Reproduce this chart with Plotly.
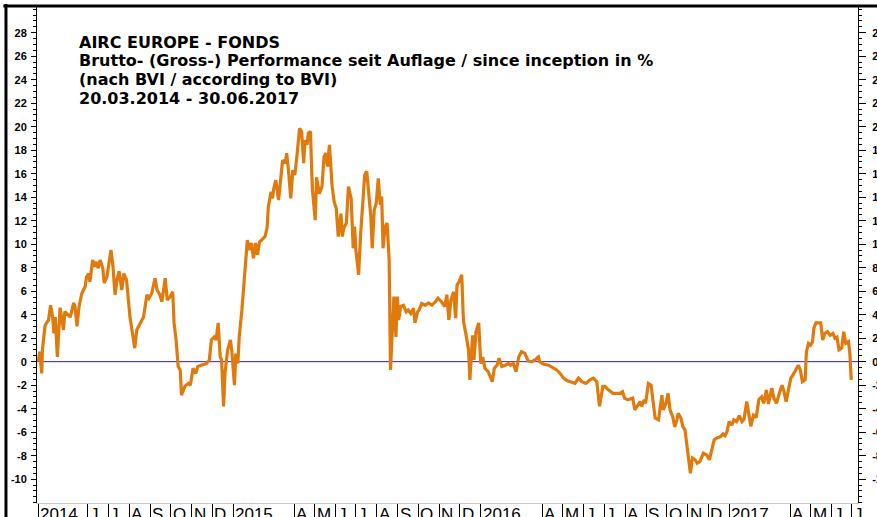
import plotly.graph_objects as go

# ---------------- data ----------------
dates_2014 = ["2014-03-20","2014-03-22","2014-03-25","2014-03-26","2014-03-28","2014-03-30",
  "2014-04-04","2014-04-07","2014-04-10","2014-04-12","2014-04-14","2014-04-17","2014-04-21","2014-04-24","2014-04-26","2014-04-28",
  "2014-05-03","2014-05-06","2014-05-11","2014-05-13","2014-05-16","2014-05-19","2014-05-23","2014-05-28","2014-05-30",
  "2014-06-02","2014-06-04","2014-06-08","2014-06-12","2014-06-14","2014-06-16","2014-06-19","2014-06-23","2014-06-25","2014-06-29",
  "2014-07-01","2014-07-05","2014-07-08","2014-07-11","2014-07-14","2014-07-17","2014-07-21","2014-07-24","2014-07-28",
  "2014-08-02","2014-08-05","2014-08-09","2014-08-12","2014-08-17","2014-08-22","2014-08-27","2014-08-30",
  "2014-09-03","2014-09-08","2014-09-11","2014-09-15","2014-09-18","2014-09-23","2014-09-26","2014-09-30",
  "2014-10-04","2014-10-06","2014-10-09","2014-10-12","2014-10-15","2014-10-17","2014-10-22","2014-10-27","2014-10-30",
  "2014-11-03","2014-11-07","2014-11-10","2014-11-15","2014-11-23","2014-11-27","2014-11-30",
  "2014-12-04","2014-12-07","2014-12-10","2014-12-13","2014-12-15","2014-12-18","2014-12-20","2014-12-24","2014-12-28","2014-12-30"]
perf_2014 = [0.0,0.85,-1.0,1.0,2.1,3.1,
  3.55,4.8,3.8,2.4,3.8,0.4,4.6,3.5,2.7,4.25,
  4.0,3.8,5.0,4.7,3.0,4.7,5.8,6.4,7.2,
  7.5,6.8,8.65,8.1,8.5,7.95,8.65,7.95,6.7,7.2,
  8.0,9.5,8.1,5.7,6.95,7.7,6.1,7.5,6.95,
  3.8,2.7,1.15,2.7,3.3,3.8,5.7,5.4,
  5.8,7.1,6.1,5.7,5.1,7.1,5.25,5.5,
  5.95,3.3,1.85,-0.4,-0.7,-2.85,-2.1,-1.85,-2.0,
  -0.55,-1.0,-0.4,-0.3,-0.15,0.15,1.85,
  2.1,1.85,3.3,0.4,0.15,-3.8,-1.0,1.0,1.85,1.0]

dates_2015 = ["2015-01-03","2015-01-05","2015-01-08","2015-01-10","2015-01-14","2015-01-17","2015-01-20","2015-01-22","2015-01-25","2015-01-28","2015-01-31",
  "2015-02-03","2015-02-06","2015-02-09","2015-02-12","2015-02-17","2015-02-20","2015-02-22","2015-02-26","2015-02-28",
  "2015-03-02","2015-03-05","2015-03-09","2015-03-12","2015-03-15","2015-03-19","2015-03-21","2015-03-24","2015-03-27","2015-03-30",
  "2015-04-02","2015-04-05","2015-04-09","2015-04-12","2015-04-15","2015-04-17","2015-04-20","2015-04-22","2015-04-25","2015-04-27","2015-04-28",
  "2015-05-02","2015-05-04","2015-05-08","2015-05-12","2015-05-15","2015-05-18","2015-05-20","2015-05-23","2015-05-27","2015-05-30",
  "2015-06-02","2015-06-05","2015-06-09","2015-06-11","2015-06-13","2015-06-17","2015-06-20","2015-06-24","2015-06-27","2015-06-29",
  "2015-07-01","2015-07-05","2015-07-08","2015-07-11","2015-07-14","2015-07-17","2015-07-20","2015-07-23","2015-07-25","2015-07-28","2015-07-31",
  "2015-08-03","2015-08-06","2015-08-08","2015-08-10","2015-08-13","2015-08-16","2015-08-19","2015-08-21","2015-08-24","2015-08-26","2015-08-29","2015-08-31",
  "2015-09-02","2015-09-05","2015-09-09","2015-09-13","2015-09-16","2015-09-20","2015-09-24","2015-09-26","2015-09-30",
  "2015-10-02","2015-10-06","2015-10-11","2015-10-16","2015-10-21","2015-10-26","2015-10-30",
  "2015-11-04","2015-11-09","2015-11-12","2015-11-15","2015-11-18","2015-11-22","2015-11-25","2015-11-27","2015-11-30",
  "2015-12-04","2015-12-06","2015-12-07","2015-12-10","2015-12-14","2015-12-16","2015-12-20","2015-12-22","2015-12-25","2015-12-29"]
perf_2015 = [-2.0,0.7,-0.15,2.1,4.4,6.4,8.65,10.35,9.5,10.1,8.8,
  10.1,9.1,10.2,10.35,10.65,11.35,13.2,14.45,13.9,
  14.75,15.45,13.75,15.2,17.15,16.9,17.75,16.05,13.9,16.3,
  15.9,17.45,19.85,19.6,16.9,18.85,18.45,19.45,19.6,16.05,14.6,
  12.05,15.7,14.3,14.9,17.45,17.75,16.6,18.45,14.9,13.6,
  13.05,10.65,12.6,10.65,11.35,11.8,14.9,13.9,9.65,11.5,
  9.5,7.4,10.9,13.9,15.9,16.2,14.05,12.35,9.65,12.9,13.5,
  15.6,13.35,14.05,9.65,11.5,11.8,8.65,-0.7,3.55,5.55,2.1,5.55,
  3.55,4.7,4.8,4.25,4.4,4.1,4.55,3.3,4.25,
  4.4,4.95,4.8,5.0,4.8,5.1,5.4,
  5.1,4.7,5.7,3.55,5.25,5.95,3.7,6.5,6.8,
  7.4,4.1,3.3,2.4,1.0,-1.55,2.25,0.15,2.55,3.3]

dates_2016 = ["2016-01-01","2016-01-04","2016-01-07","2016-01-12","2016-01-15","2016-01-18","2016-01-21","2016-01-25","2016-01-28",
  "2016-02-01","2016-02-06","2016-02-11","2016-02-14","2016-02-18","2016-02-22","2016-02-26",
  "2016-03-01","2016-03-06","2016-03-11","2016-03-16","2016-03-21","2016-03-26","2016-03-28",
  "2016-04-02","2016-04-10","2016-04-16","2016-04-22","2016-04-27",
  "2016-05-02","2016-05-07","2016-05-12","2016-05-19","2016-05-24","2016-05-29",
  "2016-06-04","2016-06-10","2016-06-15","2016-06-20","2016-06-24","2016-06-29",
  "2016-07-02","2016-07-07","2016-07-14","2016-07-24","2016-07-28","2016-07-31",
  "2016-08-05","2016-08-12","2016-08-15","2016-08-19","2016-08-23","2016-08-25","2016-08-29","2016-08-31",
  "2016-09-04","2016-09-08","2016-09-11","2016-09-14","2016-09-19","2016-09-21","2016-09-24","2016-09-26","2016-09-30",
  "2016-10-03","2016-10-06","2016-10-10","2016-10-13","2016-10-16","2016-10-18","2016-10-22","2016-10-25","2016-10-28","2016-10-31",
  "2016-11-03","2016-11-05","2016-11-08","2016-11-12","2016-11-15","2016-11-19","2016-11-24","2016-11-29",
  "2016-12-03","2016-12-06","2016-12-10","2016-12-14","2016-12-19","2016-12-23","2016-12-26","2016-12-29"]
perf_2016 = [-0.15,0.4,-0.55,-0.85,-1.3,-1.7,-0.55,-0.3,0.3,
  -0.4,-0.3,-0.15,-0.3,-0.15,-0.85,0.4,
  0.85,0.7,0.05,0.0,0.15,0.4,0.0,
  -0.2,-0.3,-0.5,-0.7,-1.0,
  -1.4,-1.6,-1.7,-1.85,-1.4,-1.7,
  -1.85,-1.55,-1.4,-1.7,-3.8,-2.1,
  -2.1,-2.4,-2.7,-2.7,-2.55,-3.1,
  -3.25,-3.1,-4.1,-3.7,-3.4,-3.8,-3.25,-3.55,
  -1.85,-2.0,-3.55,-4.8,-4.95,-4.1,-2.85,-4.1,-3.55,
  -2.7,-4.1,-4.7,-5.55,-4.95,-4.4,-4.8,-5.55,-5.8,-7.25,
  -8.8,-9.5,-8.2,-8.35,-8.65,-8.5,-7.8,-7.95,
  -8.35,-7.5,-6.65,-6.5,-6.4,-6.15,-6.3,-5.95]

dates_2017 = ["2017-01-01","2017-01-05","2017-01-08","2017-01-12","2017-01-16","2017-01-20","2017-01-23","2017-01-27","2017-01-29",
  "2017-02-02","2017-02-06","2017-02-10","2017-02-14","2017-02-18","2017-02-21","2017-02-25","2017-02-28",
  "2017-03-05","2017-03-08","2017-03-12","2017-03-16","2017-03-20","2017-03-23","2017-03-26","2017-03-29",
  "2017-04-02","2017-04-05","2017-04-09","2017-04-13","2017-04-16","2017-04-19","2017-04-23","2017-04-25","2017-04-28",
  "2017-05-01","2017-05-04","2017-05-06","2017-05-09","2017-05-13","2017-05-16","2017-05-19","2017-05-22","2017-05-26","2017-05-30",
  "2017-06-03","2017-06-06","2017-06-09","2017-06-12","2017-06-16","2017-06-19","2017-06-22","2017-06-26","2017-06-28","2017-06-30"]
perf_2017 = [-5.1,-5.4,-4.95,-5.1,-4.6,-5.1,-4.9,-3.4,-4.1,
  -5.5,-4.55,-4.75,-3.2,-3.0,-3.55,-2.4,-3.6,
  -2.25,-3.1,-3.55,-2.7,-2.0,-2.55,-3.4,-2.55,
  -1.4,-1.15,-0.7,-0.3,-0.7,-1.7,-1.55,0.85,1.55,
  1.4,1.7,2.85,3.3,3.3,3.3,1.85,2.4,2.55,2.25,
  2.4,2.0,2.1,1.0,1.15,2.55,1.55,1.7,0.7,-1.55]

month_ticks = ["2014-03-20","2014-06-01","2014-07-01","2014-08-01","2014-09-01","2014-10-01","2014-11-01","2014-12-01",
  "2015-01-01","2015-04-01","2015-05-01","2015-06-01","2015-07-01","2015-08-01","2015-09-01","2015-10-01","2015-11-01","2015-12-01",
  "2016-01-01","2016-04-01","2016-05-01","2016-06-01","2016-07-01","2016-08-01","2016-09-01","2016-10-01","2016-11-01","2016-12-01",
  "2017-01-01","2017-04-01","2017-05-01","2017-06-01","2017-07-01"]
month_labels = ["2014","J","J","A","S","O","N","D",
  "2015","A","M","J","J","A","S","O","N","D",
  "2016","A","M","J","J","A","S","O","N","D",
  "2017","A","M","J","J"]

y_ticks = list(range(-10, 30, 2))
title_lines = ["AIRC EUROPE - FONDS",
               "Brutto- (Gross-) Performance seit Auflage / since inception in %",
               "(nach BVI / according to BVI)",
               "20.03.2014 - 30.06.2017"]

dates = dates_2014 + dates_2015 + dates_2016 + dates_2017
perf = perf_2014 + perf_2015 + perf_2016 + perf_2017

# ---------------- figure ----------------
LINE = "#E07A0C"
FONT = "Liberation Sans, Arial, sans-serif"
yr = [-12.03, 30.19]

fig = go.Figure()
fig.add_trace(go.Scatter(x=dates, y=perf, mode="lines",
                         line=dict(color=LINE, width=3.2), showlegend=False,
                         hoverinfo="skip"))
# helper trace so that the right-hand axis is drawn
fig.add_trace(go.Scatter(x=dates[:1], y=perf[:1], yaxis="y2", mode="markers",
                         marker=dict(opacity=0), showlegend=False, hoverinfo="skip"))

yaxis_common = dict(range=yr, tickvals=y_ticks, ticktext=[str(v) for v in y_ticks],
                    showline=True, linecolor="black", linewidth=1,
                    ticks="outside", tickcolor="black", tickwidth=1,
                    tickfont=dict(family=FONT, size=11, color="black", weight="bold"),
                    showgrid=False, zeroline=False, automargin=False,
                    minor=dict(dtick=0.5, tick0=0, ticks="outside", ticklen=3,
                               tickcolor="black", tickwidth=1, showgrid=False))

fig.update_layout(
    width=877, height=517,
    margin=dict(l=37, r=19, t=7, b=14),
    paper_bgcolor="white", plot_bgcolor="white",
    showlegend=False,
    xaxis=dict(type="date", range=["2014-03-18", "2017-07-10"],
               tickvals=month_ticks, showticklabels=False,
               ticks="outside", ticklen=16, tickcolor="black", tickwidth=1,
               showline=True, linecolor="#c8c8c8", linewidth=1,
               showgrid=False, zeroline=False, automargin=False),
    yaxis=dict(**yaxis_common, side="left", ticklen=5, ticklabelstandoff=2),
    yaxis2=dict(**yaxis_common, side="right", overlaying="y", ticklen=7,
                ticklabelstandoff=4),
)

annotations = []
for t, lab in zip(month_ticks, month_labels):
    annotations.append(dict(x=t, y=0, xref="x", yref="paper", text=lab,
                            xanchor="left", yanchor="top", showarrow=False,
                            xshift=0, yshift=0,
                            font=dict(family=FONT, size=17, color="black")))
title_y = [0.9294, 0.8917, 0.854, 0.8163]
for line, ty in zip(title_lines, title_y):
    annotations.append(dict(x=0.049, y=ty, xref="paper", yref="paper", text="<b>%s</b>" % line,
                            xanchor="left", yanchor="middle", showarrow=False,
                            font=dict(family="DejaVu Sans, sans-serif", size=16, color="black")))
fig.update_layout(annotations=annotations)

# zero reference line (blue)
fig.add_shape(type="line", xref="paper", yref="y", x0=0, x1=1, y0=0, y1=0,
              line=dict(color="#1c1cff", width=1), layer="below")
# frame lines at top and left of the picture
fig.add_shape(type="line", xref="paper", yref="paper", x0=-0.041, x1=1.03, y0=1.002, y1=1.002,
              line=dict(color="black", width=3))
fig.add_shape(type="line", xref="paper", yref="paper", x0=-0.0378, x1=-0.0378, y0=1.006, y1=-0.03,
              line=dict(color="black", width=3))

fig.write_html("out.html", config={"displayModeBar": False},
               post_script="document.body.style.margin='0px';document.body.style.overflow='hidden';")
